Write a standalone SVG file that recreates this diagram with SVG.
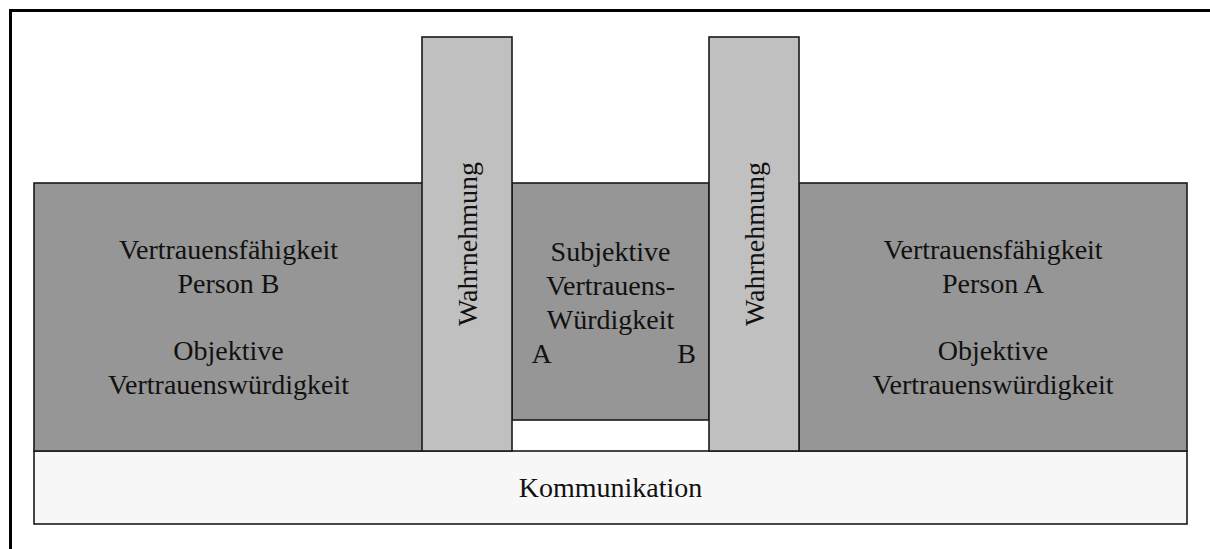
<svg xmlns="http://www.w3.org/2000/svg" width="1210" height="549" viewBox="0 0 1210 549">
  <style>
    .box { stroke: #1a1a1a; stroke-width: 1.6; }
    .dark { fill: #969696; }
    .col { fill: #c0c0c0; }
    .komm { fill: #f7f7f7; }
    text { font-family: "Liberation Serif", "Times New Roman", serif; font-size: 28px; fill: #111; text-anchor: middle; }
  </style>
  <rect x="0" y="0" width="1210" height="549" fill="#ffffff"/>
  <rect id="frame" x="10.5" y="10.5" width="1230" height="560" fill="none" stroke="#000" stroke-width="3"/>

  <g id="kommunikation">
    <rect class="box komm" x="34" y="451" width="1153" height="73"/>
    <text x="610.5" y="497">Kommunikation</text>
  </g>

  <g id="person-b">
    <rect class="box dark" x="34" y="183" width="389" height="268"/>
    <text x="228.5" y="259">Vertrauensfähigkeit</text>
    <text x="228.5" y="293">Person B</text>
    <text x="228.5" y="360">Objektive</text>
    <text x="228.5" y="394">Vertrauenswürdigkeit</text>
  </g>

  <g id="subjektive">
    <rect class="box dark" x="512" y="183" width="197" height="237"/>
    <text x="610.5" y="261">Subjektive</text>
    <text x="610.5" y="294.5">Vertrauens-</text>
    <text x="610.5" y="328.5">Würdigkeit</text>
    <text x="541.5" y="362.5">A</text>
    <text x="686.5" y="362.5">B</text>
  </g>

  <g id="person-a">
    <rect class="box dark" x="799" y="183" width="388" height="268"/>
    <text x="993" y="259">Vertrauensfähigkeit</text>
    <text x="993" y="293">Person A</text>
    <text x="993" y="360">Objektive</text>
    <text x="993" y="394">Vertrauenswürdigkeit</text>
  </g>

  <g id="wahrnehmung-links">
    <rect class="box col" x="422" y="37" width="90" height="414"/>
    <text transform="translate(477,244) rotate(-90)" x="0" y="0">Wahrnehmung</text>
  </g>

  <g id="wahrnehmung-rechts">
    <rect class="box col" x="709" y="37" width="90" height="414"/>
    <text transform="translate(764,244) rotate(-90)" x="0" y="0">Wahrnehmung</text>
  </g>

  <g id="connectors"></g>
</svg>
